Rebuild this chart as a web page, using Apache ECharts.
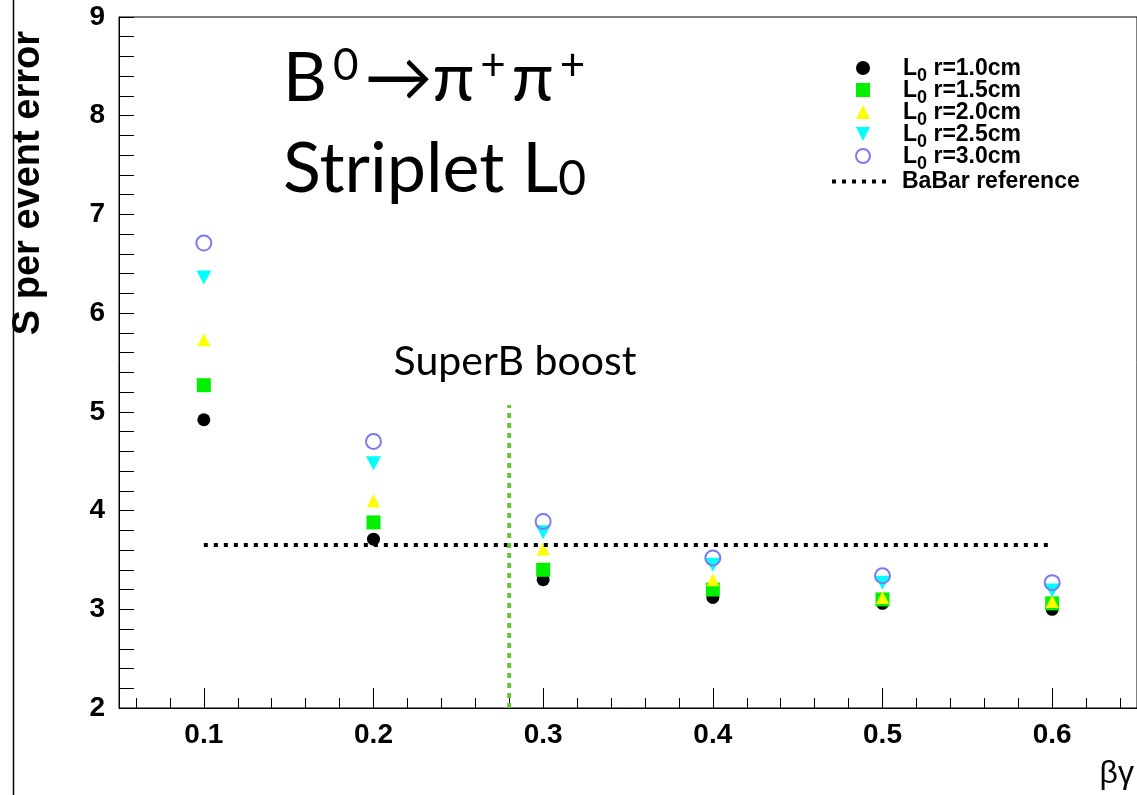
<!DOCTYPE html>
<html><head><meta charset="utf-8">
<script src="https://cdn.jsdelivr.net/npm/echarts@6/dist/echarts.min.js"></script>
<style>html,body{margin:0;padding:0;background:#fff}#c{width:1137px;height:795px}</style>
</head><body><div id="c"></div>
<script>
// ---- data ----
const xValues = [0.1, 0.2, 0.3, 0.4, 0.5, 0.6];
const r10 = [4.92, 3.71, 3.30, 3.12, 3.06, 3.00];
const r15 = [5.27, 3.88, 3.40, 3.20, 3.10, 3.06];
const r20 = [5.73, 4.10, 3.61, 3.30, 3.12, 3.08];
const r25 = [6.36, 4.48, 3.78, 3.45, 3.27, 3.19];
const r30 = [6.71, 4.70, 3.89, 3.52, 3.34, 3.27];
const babarX = [0.1, 0.6];
const babarY = 3.65;
const superBX = 0.28;
const superBY = [2, 5.07];
const seriesNames = ['L0 r=1.0cm', 'L0 r=1.5cm', 'L0 r=2.0cm', 'L0 r=2.5cm', 'L0 r=3.0cm', 'BaBar reference'];
const xMajorTicks = [0.1, 0.2, 0.3, 0.4, 0.5, 0.6];
const xMinorTicks = [0.06, 0.08, 0.12, 0.14, 0.16, 0.18, 0.22, 0.24, 0.26, 0.28, 0.32, 0.34, 0.36, 0.38,
  0.42, 0.44, 0.46, 0.48, 0.52, 0.54, 0.56, 0.58, 0.62, 0.64];
const yMin = 2, yMax = 9, yStep = 1;
const xMin = 0.05, xMax = 0.65;

const pts = arr => xValues.map((x, i) => [x, arr[i]]);
const chart = echarts.init(document.getElementById('c'), null, {renderer: 'canvas'});
const bold = 'Liberation Sans';
const legendText = {fontFamily: bold, fontWeight: 'bold', fontSize: 23, color: '#000', lineHeight: 22,
  rich: {
    m: {fontFamily: bold, fontWeight: 'bold', fontSize: 23, lineHeight: 22, verticalAlign: 'top'},
    s: {fontFamily: bold, fontWeight: 'bold', fontSize: 18, lineHeight: 12, padding: [10, 0, 0, 0], verticalAlign: 'top'}
  }};
const dotIcon = 'path://M0,0h4v4h-4zM10,0h4v4h-4zM20,0h4v4h-4zM30,0h4v4h-4zM40,0h4v4h-4zM50,0h4v4h-4z';
chart.setOption({
  animation: false,
  backgroundColor: '#fff',
  grid: {left: 119, top: 17, width: 1021, height: 691, show: true, borderColor: '#000', borderWidth: 1, backgroundColor: 'transparent'},
  xAxis: [{
    type: 'value', min: xMin, max: xMax,
    axisLine: {show: true, lineStyle: {color: '#000', width: 1}},
    axisTick: {show: true, inside: true, length: 20, customValues: xMajorTicks, lineStyle: {color: '#000', width: 1}},
    axisLabel: {show: true, customValues: xMajorTicks, formatter: v => v.toFixed(1), margin: 13,
      fontFamily: bold, fontWeight: 'bold', fontSize: 28, color: '#000'},
    splitLine: {show: false}
  }, {
    type: 'value', min: xMin, max: xMax, position: 'bottom',
    axisLine: {show: false},
    axisTick: {show: true, inside: true, length: 10, customValues: xMinorTicks, lineStyle: {color: '#000', width: 1}},
    axisLabel: {show: false},
    splitLine: {show: false}
  }],
  yAxis: {
    type: 'value', min: yMin, max: yMax, interval: yStep,
    axisLine: {show: true, lineStyle: {color: '#000', width: 1}},
    axisTick: {show: true, inside: true, length: 15, lineStyle: {color: '#000', width: 1}},
    minorTick: {show: true, splitNumber: 5, length: 15, lineStyle: {color: '#000', width: 1}},
    axisLabel: {margin: 14, fontFamily: bold, fontWeight: 'bold', fontSize: 28, color: '#000'},
    splitLine: {show: false}
  },
  legend: [{
    orient: 'vertical', left: 855, top: 57, padding: 0,
    itemWidth: 14, itemHeight: 14, itemGap: -6,
    data: seriesNames.slice(0, 5),
    formatter: n => '{m|L}{s|0}{m|' + n.slice(2) + '}',
    textStyle: Object.assign({padding: [0, 0, 0, 28]}, legendText)
  }, {
    orient: 'vertical', left: 832, top: 170, padding: 0,
    itemWidth: 54, itemHeight: 4, itemGap: 0,
    data: [{name: seriesNames[5], icon: dotIcon, itemStyle: {color: '#000'}}],
    textStyle: Object.assign({padding: [0, 0, 0, 11]}, legendText)
  }],
  series: [
    {name: seriesNames[0], type: 'scatter', data: pts(r10), symbol: 'circle', symbolSize: 13, itemStyle: {color: '#000', opacity: 1}},
    {name: seriesNames[1], type: 'scatter', data: pts(r15), symbol: 'rect', symbolSize: 14, itemStyle: {color: '#00f000', opacity: 1}},
    {name: seriesNames[2], type: 'scatter', data: pts(r20), symbol: 'triangle', symbolSize: 13, itemStyle: {color: '#ffff00', opacity: 1}},
    {name: seriesNames[3], type: 'scatter', data: pts(r25), symbol: 'path://M0,0 L10,0 L5,10 Z', symbolSize: [15, 14], itemStyle: {color: '#00ffff', opacity: 1}},
    {name: seriesNames[4], type: 'scatter', data: pts(r30), symbol: 'circle', symbolSize: 15,
      itemStyle: {color: 'rgba(255,255,255,0)', borderColor: '#7b7bf0', borderWidth: 2, opacity: 1}},
    {name: seriesNames[5], type: 'line', data: babarX.map(x => [x, babarY]), symbol: 'none',
      lineStyle: {color: '#000', width: 4, type: [4, 6], cap: 'butt'}, itemStyle: {color: '#000'}},
    {name: 'SuperB boost', type: 'line', data: superBY.map(y => [superBX, y]), symbol: 'none',
      lineStyle: {color: '#6cbf3c', width: 4, type: [5, 5], cap: 'butt'}}
  ],
  graphic: [
    {type: 'line', shape: {x1: 13.5, y1: 0, x2: 13.5, y2: 795}, style: {stroke: '#000', lineWidth: 1.5}},
    {type: 'text', x: 29, y: 31, rotation: Math.PI / 2,
      style: {text: 'S per event error', fontFamily: bold, fontWeight: 'bold', fontSize: 38, fill: '#000', align: 'right', verticalAlign: 'middle'}},
    {type: 'text', x: 1134, y: 774,
      style: {text: 'βγ', fontFamily: 'Liberation Sans', fontSize: 32, fill: '#000', align: 'right', verticalAlign: 'middle'}},
    {type: 'text', x: 515, y: 362,
      style: {text: 'SuperB boost', fontFamily: 'Lato', fontSize: 41, fill: '#000', align: 'center', verticalAlign: 'middle'}},
    {type: 'text', x: 280, y: 44,
      style: {text: '{b|B}{p|0}{b|→π}{p|+}{b|π}{p|+}', fill: '#000', align: 'left', verticalAlign: 'top',
        rich: {b: {fontFamily: 'Lato', fontSize: 68, lineHeight: 70, fill: '#000', padding: [0, 3, 0, 3]},
               p: {fontFamily: 'Lato', fontSize: 44, lineHeight: 70, verticalAlign: 'top', fill: '#000', padding: [0, 3, 0, 3]}}}},
    {type: 'text', x: 283, y: 134,
      style: {text: '{a|Striplet L}{s|0}', fill: '#000', align: 'left', verticalAlign: 'top',
        rich: {a: {fontFamily: 'Lato', fontSize: 70, lineHeight: 70, fill: '#000'},
               s: {fontFamily: 'Lato', fontSize: 48, lineHeight: 64, verticalAlign: 'bottom', fill: '#000'}}}}
  ]
});
</script></body></html>
